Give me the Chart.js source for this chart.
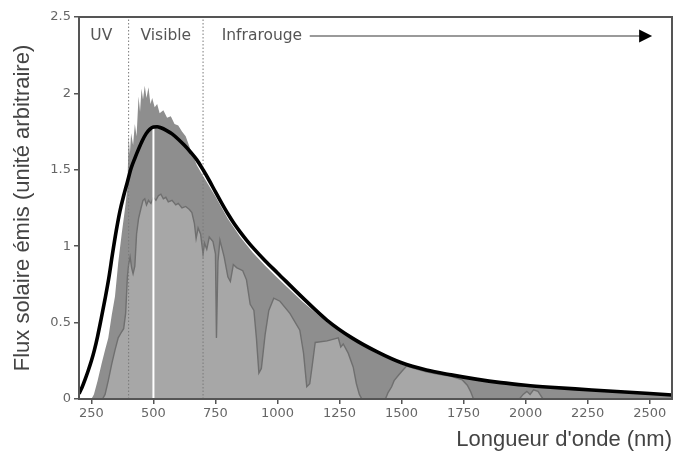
<!DOCTYPE html>
<html>
<head>
<meta charset="utf-8">
<script src="https://cdn.jsdelivr.net/npm/chart.js@4.4.1/dist/chart.umd.min.js"></script>
<style>
  html, body { margin: 0; padding: 0; background: #fff; }
  canvas { display: block; }
</style>
</head>
<body>
<canvas id="spectrumChart" width="677" height="453"></canvas>
<script>
// tick labels
const xTicks = [250, 500, 750, 1000, 1250, 1500, 1750, 2000, 2250, 2500];
const yTicks = [0, 0.5, 1, 1.5, 2, 2.5];

// black curve (corps noir)
const bbWave = [200, 212, 225, 237, 250, 262, 275, 290, 305, 320, 335, 350, 365, 380, 395, 410, 425, 440, 455, 470, 485, 500, 515, 530, 550, 575, 600, 625, 650, 675, 700, 725, 750, 775, 800, 825, 850, 875, 900, 950, 1000, 1100, 1200, 1300, 1400, 1500, 1600, 1700, 1800, 1900, 2000, 2100, 2200, 2300, 2400, 2500, 2590];
const bbFlux = [0.035, 0.075, 0.13, 0.185, 0.25, 0.32, 0.41, 0.53, 0.655, 0.79, 0.95, 1.10, 1.23, 1.33, 1.42, 1.51, 1.575, 1.635, 1.69, 1.735, 1.765, 1.78, 1.782, 1.775, 1.76, 1.735, 1.70, 1.66, 1.615, 1.565, 1.50, 1.43, 1.355, 1.282, 1.212, 1.148, 1.092, 1.04, 0.992, 0.905, 0.825, 0.665, 0.515, 0.40, 0.31, 0.237, 0.19, 0.158, 0.13, 0.107, 0.09, 0.077, 0.066, 0.056, 0.046, 0.036, 0.026];

// dark grey: top of atmosphere
const etWave = [250, 260, 275, 291, 305, 318, 332, 345, 358, 372, 385, 395, 400, 405, 410, 418, 425, 432, 440, 446, 452, 458, 465, 472, 480, 488, 495, 505, 515, 525, 540, 555, 570, 585, 600, 615, 630, 650, 675, 700, 750, 800, 850, 900, 950, 1000, 1100, 1200, 1300, 1400, 1500, 1600, 1700, 1800, 1900, 2000, 2100, 2200, 2300, 2400, 2500, 2590];
const etFlux = [0, 0.03, 0.12, 0.23, 0.32, 0.40, 0.55, 0.67, 0.89, 1.08, 1.24, 1.38, 1.72, 1.60, 1.74, 1.66, 1.80, 1.72, 1.98, 1.88, 2.03, 1.96, 2.05, 1.97, 2.04, 1.93, 1.97, 1.91, 1.93, 1.87, 1.89, 1.84, 1.85, 1.80, 1.79, 1.75, 1.72, 1.63, 1.53, 1.46, 1.325, 1.18, 1.06, 0.958, 0.872, 0.792, 0.638, 0.50, 0.39, 0.30, 0.227, 0.182, 0.151, 0.123, 0.099, 0.084, 0.071, 0.061, 0.051, 0.041, 0.031, 0.02];

// light grey: sea level
const seaWave = [295, 305, 318, 332, 345, 358, 372, 380, 388, 395, 400, 406, 412, 418, 425, 432, 440, 450, 458, 465, 472, 480, 490, 500, 510, 520, 530, 540, 550, 560, 575, 590, 600, 615, 630, 645, 655, 665, 672, 680, 690, 700, 706, 715, 725, 740, 750, 754, 760, 768, 785, 800, 810, 822, 835, 860, 875, 890, 905, 915, 925, 935, 950, 965, 985, 1010, 1050, 1090, 1105, 1118, 1130, 1140, 1152, 1200, 1245, 1255, 1265, 1285, 1305, 1318, 1330, 1340, 1435, 1445, 1460, 1470, 1490, 1520, 1550, 1600, 1650, 1700, 1745, 1765, 1778, 1790, 1975, 1990, 2005, 2018, 2032, 2050, 2070, 2590];
const seaFlux = [0, 0.03, 0.12, 0.23, 0.32, 0.40, 0.44, 0.46, 0.56, 0.80, 0.88, 0.93, 0.86, 0.82, 0.87, 1.08, 1.18, 1.25, 1.30, 1.31, 1.27, 1.30, 1.28, 1.32, 1.30, 1.33, 1.34, 1.31, 1.32, 1.29, 1.30, 1.27, 1.28, 1.25, 1.26, 1.24, 1.22, 1.15, 1.05, 1.12, 1.08, 0.95, 1.02, 0.98, 1.06, 1.03, 0.95, 0.40, 0.90, 1.04, 0.93, 0.80, 0.77, 0.88, 0.86, 0.84, 0.78, 0.62, 0.58, 0.40, 0.17, 0.20, 0.42, 0.58, 0.66, 0.64, 0.56, 0.45, 0.30, 0.08, 0.10, 0.22, 0.37, 0.38, 0.40, 0.34, 0.36, 0.30, 0.21, 0.10, 0.03, 0, 0, 0.04, 0.08, 0.12, 0.16, 0.215, 0.20, 0.178, 0.162, 0.148, 0.125, 0.09, 0.05, 0, 0, 0.03, 0.05, 0.03, 0.06, 0.05, 0, 0];

// band limits (UV / visible / IR) and peak marker
const bandEdges = [400, 700];
const peakWave = 500;

const toPoints = (xs, ys) => xs.map((x, i) => ({ x: x, y: ys[i] }));
const peakFlux = bbFlux[bbWave.indexOf(peakWave)] - 0.01;

const datasets = [
  {
    data: toPoints(etWave, etFlux),
    showLine: true, borderWidth: 0, borderColor: 'rgba(0,0,0,0)',
    backgroundColor: '#8e8e8e', fill: 'origin', tension: 0, order: 6
  },
  {
    data: toPoints(seaWave, seaFlux),
    showLine: true, borderWidth: 1.4, borderColor: '#6f6f6f',
    backgroundColor: '#a7a7a7', fill: 'origin', tension: 0, order: 5
  },
  ...bandEdges.map(w => ({
    data: [{ x: w, y: yTicks[0] }, { x: w, y: yTicks[yTicks.length - 1] }],
    showLine: true, borderWidth: 1, borderColor: '#7a7a7a', borderDash: [1.5, 2],
    fill: false, order: 4
  })),
  {
    data: [{ x: peakWave, y: 0 }, { x: peakWave, y: peakFlux }],
    showLine: true, borderWidth: 2, borderColor: '#ffffff', fill: false, order: 3
  },
  {
    data: toPoints(bbWave, bbFlux),
    showLine: true, borderWidth: 3.6, borderColor: '#000000',
    fill: false, cubicInterpolationMode: 'monotone', order: 1
  }
];

// frame around the plot + band labels and arrow
const annotations = {
  id: 'annotations',
  afterDatasetsDraw(chart) {
    const { ctx, chartArea: a, scales: { x, y } } = chart;
    ctx.save();
    ctx.strokeStyle = '#555';
    ctx.lineWidth = 2;
    ctx.strokeRect(a.left, a.top, a.right - a.left, a.bottom - a.top);

    const ty = y.getPixelForValue(2.375);
    ctx.font = '15.5px "DejaVu Sans"';
    ctx.fillStyle = '#555';
    ctx.textBaseline = 'middle';
    ctx.textAlign = 'center';
    ctx.fillText('UV', x.getPixelForValue(290), ty);
    ctx.fillText('Visible', x.getPixelForValue(550), ty);
    ctx.textAlign = 'left';
    ctx.fillText('Infrarouge', x.getPixelForValue(775), ty);

    const x0 = x.getPixelForValue(1130);
    const x1 = x.getPixelForValue(2510);
    ctx.strokeStyle = '#9a9a9a';
    ctx.lineWidth = 2;
    ctx.beginPath();
    ctx.moveTo(x0, ty);
    ctx.lineTo(x1 - 10, ty);
    ctx.stroke();
    ctx.fillStyle = '#000';
    ctx.beginPath();
    ctx.moveTo(x1, ty);
    ctx.lineTo(x1 - 13, ty - 6.5);
    ctx.lineTo(x1 - 13, ty + 6.5);
    ctx.closePath();
    ctx.fill();
    ctx.restore();
  }
};

const ctx = document.getElementById('spectrumChart').getContext('2d');
new Chart(ctx, {
  type: 'scatter',
  data: { datasets: datasets },
  options: {
    responsive: false,
    animation: false,
    layout: { padding: { top: 17, right: 5, left: 0, bottom: 0 } },
    elements: { point: { radius: 0, hoverRadius: 0 } },
    plugins: { legend: { display: false }, tooltip: { enabled: false } },
    scales: {
      x: {
        type: 'linear', min: 200, max: 2590,
        afterBuildTicks: s => { s.ticks = xTicks.map(v => ({ value: v })); },
        afterFit: s => { s.height = 54; },
        ticks: {
          color: '#666', font: { family: 'DejaVu Sans', size: 13 }, padding: 2, maxRotation: 0,
          callback: v => String(v)
        },
        grid: { drawOnChartArea: false, drawTicks: true, tickLength: 5, color: '#555', lineWidth: 1.5 },
        border: { display: false },
        title: {
          display: true, text: "Longueur d'onde (nm)", align: 'end',
          color: '#444', font: { family: 'Liberation Sans', size: 22 }, padding: { top: 1, bottom: 0 }
        }
      },
      y: {
        min: 0, max: 2.5,
        afterBuildTicks: s => { s.ticks = yTicks.map(v => ({ value: v })); },
        afterFit: s => { s.width = 79; },
        ticks: {
          color: '#666', font: { family: 'DejaVu Sans', size: 13 }, padding: 3,
          callback: v => String(v)
        },
        grid: { drawOnChartArea: false, drawTicks: true, tickLength: 5, color: '#555', lineWidth: 1.5 },
        border: { display: false },
        title: {
          display: true, text: 'Flux solaire émis (unité arbitraire)',
          color: '#444', font: { family: 'Liberation Sans', size: 22 }, padding: { top: 10, bottom: 0 }
        }
      }
    }
  },
  plugins: [annotations]
});
</script>
</body>
</html>
